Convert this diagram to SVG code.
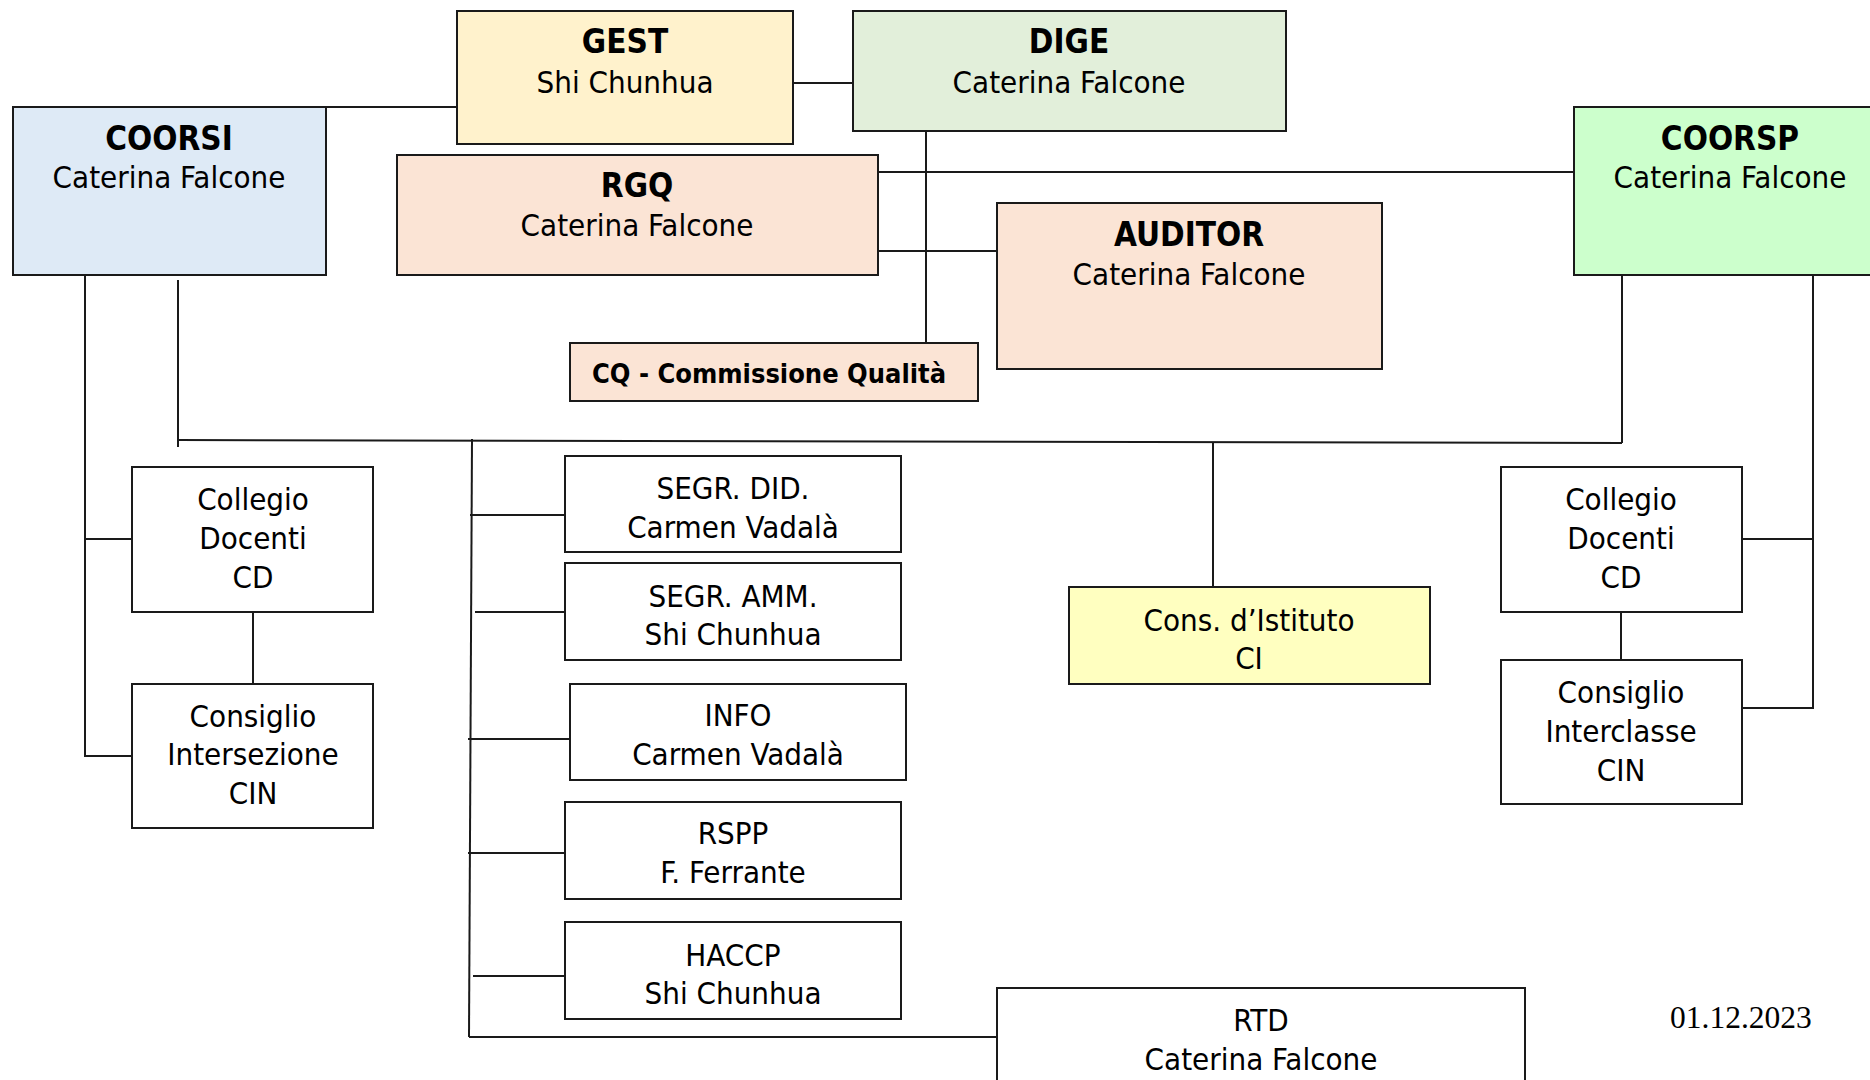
<svg xmlns="http://www.w3.org/2000/svg" width="1870" height="1080" viewBox="0 0 1870 1080">
<style>
.box{stroke:#1a1a1a;stroke-width:2}
.w{fill:#ffffff}
.t{font-family:"DejaVu Sans Condensed","DejaVu Sans",sans-serif;font-size:31px;fill:#000;text-anchor:middle}
.b{font-weight:bold;font-size:33px}
.ln{stroke:#1a1a1a;stroke-width:2;fill:none}
.date{font-family:"Liberation Serif",serif;font-size:31.5px;fill:#000}
</style>
<rect width="1870" height="1080" fill="#ffffff"/>
<g id="connectors">
<line class="ln" x1="265" y1="107" x2="457" y2="107"/>
<line class="ln" x1="793" y1="83" x2="853" y2="83"/>
<line class="ln" x1="926" y1="131" x2="926" y2="343"/>
<line class="ln" x1="878" y1="172" x2="1574" y2="172"/>
<line class="ln" x1="878" y1="251" x2="997" y2="251"/>
<polyline class="ln" points="85,275 85,756 132,756"/>
<line class="ln" x1="85" y1="539" x2="132" y2="539"/>
<line class="ln" x1="178" y1="280" x2="178" y2="447"/>
<line class="ln" x1="178" y1="440" x2="1622" y2="443"/>
<line class="ln" x1="1622" y1="275" x2="1622" y2="443"/>
<line class="ln" x1="1213" y1="443" x2="1213" y2="587"/>
<line class="ln" x1="472" y1="439" x2="469" y2="1037"/>
<line class="ln" x1="470" y1="515" x2="565" y2="515"/>
<line class="ln" x1="475" y1="612" x2="565" y2="612"/>
<line class="ln" x1="468" y1="739" x2="570" y2="739"/>
<line class="ln" x1="468" y1="853" x2="565" y2="853"/>
<line class="ln" x1="473" y1="976" x2="568" y2="976"/>
<line class="ln" x1="469" y1="1037" x2="997" y2="1037"/>
<line class="ln" x1="253" y1="612" x2="253" y2="684"/>
<line class="ln" x1="1621" y1="612" x2="1621" y2="660"/>
<polyline class="ln" points="1813,275 1813,708 1742,708"/>
<line class="ln" x1="1742" y1="539" x2="1813" y2="539"/>
</g>
<g id="gest"><rect class="box" x="457" y="11" width="336" height="133" fill="#fff2cc"/><text class="t b" x="625" y="53">GEST</text><text class="t" x="625" y="93">Shi Chunhua</text></g>
<g id="dige"><rect class="box" x="853" y="11" width="433" height="120" fill="#e2efda"/><text class="t b" x="1069" y="53">DIGE</text><text class="t" x="1069" y="93">Caterina Falcone</text></g>
<g id="coorsi"><rect class="box" x="13" y="107" width="313" height="168" fill="#deeaf6"/><text class="t b" x="169" y="150">COORSI</text><text class="t" x="169" y="188">Caterina Falcone</text></g>
<g id="rgq"><rect class="box" x="397" y="155" width="481" height="120" fill="#fbe4d5"/><text class="t b" x="637" y="197">RGQ</text><text class="t" x="637" y="236">Caterina Falcone</text></g>
<g id="auditor"><rect class="box" x="997" y="203" width="385" height="166" fill="#fbe4d5"/><text class="t b" x="1189" y="246">AUDITOR</text><text class="t" x="1189" y="285">Caterina Falcone</text></g>
<g id="coorsp"><rect class="box" x="1574" y="107" width="310" height="168" fill="#ccffcc"/><text class="t b" x="1730" y="150">COORSP</text><text class="t" x="1730" y="188">Caterina Falcone</text></g>
<g id="cq"><rect class="box" x="570" y="343" width="408" height="58" fill="#fbe4d5"/><text class="t b" x="592" y="383" style="text-anchor:start;font-size:27px">CQ - Commissione Qualità</text></g>
<g id="cd-left"><rect class="box w" x="132" y="467" width="241" height="145"/><text class="t" x="253" y="510">Collegio</text><text class="t" x="253" y="549">Docenti</text><text class="t" x="253" y="588">CD</text></g>
<g id="cin-left"><rect class="box w" x="132" y="684" width="241" height="144"/><text class="t" x="253" y="727">Consiglio</text><text class="t" x="253" y="765">Intersezione</text><text class="t" x="253" y="804">CIN</text></g>
<g id="segr-did"><rect class="box w" x="565" y="456" width="336" height="96"/><text class="t" x="733" y="499">SEGR. DID.</text><text class="t" x="733" y="538">Carmen Vadalà</text></g>
<g id="segr-amm"><rect class="box w" x="565" y="563" width="336" height="97"/><text class="t" x="733" y="607">SEGR. AMM.</text><text class="t" x="733" y="645">Shi Chunhua</text></g>
<g id="info"><rect class="box w" x="570" y="684" width="336" height="96"/><text class="t" x="738" y="726">INFO</text><text class="t" x="738" y="765">Carmen Vadalà</text></g>
<g id="rspp"><rect class="box w" x="565" y="802" width="336" height="97"/><text class="t" x="733" y="844">RSPP</text><text class="t" x="733" y="883">F. Ferrante</text></g>
<g id="haccp"><rect class="box w" x="565" y="922" width="336" height="97"/><text class="t" x="733" y="966">HACCP</text><text class="t" x="733" y="1004">Shi Chunhua</text></g>
<g id="ci"><rect class="box" x="1069" y="587" width="361" height="97" fill="#ffffc0"/><text class="t" x="1249" y="631">Cons. d’Istituto</text><text class="t" x="1249" y="669">CI</text></g>
<g id="cd-right"><rect class="box w" x="1501" y="467" width="241" height="145"/><text class="t" x="1621" y="510">Collegio</text><text class="t" x="1621" y="549">Docenti</text><text class="t" x="1621" y="588">CD</text></g>
<g id="cin-right"><rect class="box w" x="1501" y="660" width="241" height="144"/><text class="t" x="1621" y="703">Consiglio</text><text class="t" x="1621" y="742">Interclasse</text><text class="t" x="1621" y="781">CIN</text></g>
<g id="rtd"><rect class="box w" x="997" y="988" width="528" height="120"/><text class="t" x="1261" y="1031">RTD</text><text class="t" x="1261" y="1070">Caterina Falcone</text></g>
<text class="date" x="1670" y="1028">01.12.2023</text>
</svg>
